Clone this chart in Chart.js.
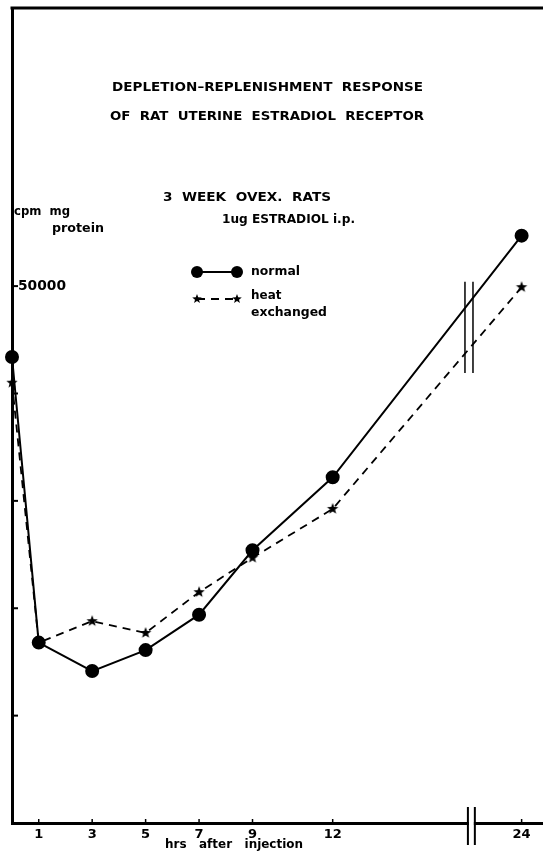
<!DOCTYPE html>
<html>
<head>
<meta charset="utf-8">
<script src="https://cdn.jsdelivr.net/npm/chart.js@4.4.0/dist/chart.umd.min.js"></script>
<style>
  html, body { margin: 0; padding: 0; background: #fff; }
  #wrap { width: 543px; height: 852px; position: relative; }
</style>
</head>
<body>
<div id="wrap"><canvas id="receptorChart"></canvas></div>
<script>
// hours after injection (x) and receptor level, cpm / mg protein (y)
const hours = [0, 1, 3, 5, 7, 9, 12, 24];
const normalValues = [43400, 16800, 14150, 16100, 19400, 25400, 32200, 54700];
const heatExchangedValues = [41000, 16800, 18800, 17700, 21500, 24700, 29250, 49900];
const xTickHours = [1, 3, 5, 7, 9, 12, 24];
const yTickValues = [10000, 20000, 30000, 40000, 50000];
const yLabelledTicks = [50000];
const seriesNames = ['normal', 'heat', 'exchanged'];

// the x axis is cut between 12 and 24 h
const breakGap = 4.93;
function axisPos(h) { return h > 12 ? h - breakGap : h; }

const FONT = '"DejaVu Sans", "Liberation Sans", Arial, sans-serif';

function makeStar(r) {
    const c = document.createElement('canvas');
    const s = Math.ceil(r * 2 + 2);
    c.width = s; c.height = s;
    const g = c.getContext('2d');
    g.fillStyle = '#000';
    g.beginPath();
    for (let i = 0; i < 10; i++) {
        const rad = i % 2 === 0 ? r : r * 0.42;
        const a = -Math.PI / 2 + i * Math.PI / 5;
        g.lineTo(s / 2 + rad * Math.cos(a), s / 2 + rad * Math.sin(a));
    }
    g.closePath();
    g.fill();
    return c;
}
const starBig = makeStar(6);
const starSmall = makeStar(5);

// text stretched to the width it has in the figure (natural width if no right edge)
function fitText(ctx, str, left, right, midY, size, sx) {
    ctx.font = 'bold ' + size + 'px ' + FONT;
    const w = ctx.measureText(str).width;
    const k = right ? (right - left) / w : (sx || 1);
    ctx.save();
    ctx.translate(left, midY);
    ctx.scale(k, 1);
    ctx.textBaseline = 'middle';
    ctx.textAlign = 'left';
    ctx.fillStyle = '#000';
    ctx.fillText(str, 0, 0);
    ctx.restore();
}

const extras = {
    id: 'extras',
    afterDraw(chart) {
        const ctx = chart.ctx;
        const xs = chart.scales.x, ys = chart.scales.y;
        const area = chart.chartArea;
        ctx.save();
        ctx.strokeStyle = '#000';
        ctx.fillStyle = '#000';

        // frame on top
        ctx.lineWidth = 3;
        ctx.beginPath();
        ctx.moveTo(area.left - 1.5, area.top);
        ctx.lineTo(chart.width, area.top);
        ctx.stroke();

        // inward y ticks
        ctx.lineWidth = 2;
        yTickValues.forEach(v => {
            const y = ys.getPixelForValue(v);
            ctx.beginPath();
            ctx.moveTo(area.left, y);
            ctx.lineTo(area.left + 6, y);
            ctx.stroke();
        });
        yLabelledTicks.forEach(v => {
            fitText(ctx, String(v), 18, 66, ys.getPixelForValue(v), 14);
        });
        // small x ticks
        ctx.lineWidth = 1.5;
        xTickHours.forEach(h => {
            const x = xs.getPixelForValue(axisPos(h));
            ctx.beginPath();
            ctx.moveTo(x, area.bottom);
            ctx.lineTo(x, area.bottom - 4);
            ctx.stroke();
        });

        // axis break
        const b1 = xs.getPixelForValue(17.06), b2 = xs.getPixelForValue(17.32);
        ctx.fillStyle = '#fff';
        ctx.fillRect(b1 + 1, area.bottom - 3, b2 - b1 - 2, 6);
        ctx.fillStyle = '#000';
        ctx.lineWidth = 2;
        [b1, b2].forEach(x => {
            ctx.beginPath();
            ctx.moveTo(x, area.bottom - 16);
            ctx.lineTo(x, area.bottom + 22);
            ctx.stroke();
        });
        // break marks across the curves
        ctx.lineWidth = 1.5;
        [16.95, 17.25].forEach(p => {
            const x = xs.getPixelForValue(p);
            ctx.beginPath();
            ctx.moveTo(x, ys.getPixelForValue(50400));
            ctx.lineTo(x, ys.getPixelForValue(41900));
            ctx.stroke();
        });

        // legend
        const n = chart.data.datasets[0], he = chart.data.datasets[1];
        ctx.lineWidth = n.borderWidth;
        ctx.beginPath();
        ctx.moveTo(197, 272); ctx.lineTo(237, 272);
        ctx.stroke();
        [197, 237].forEach(x => {
            ctx.beginPath();
            ctx.arc(x, 272, 6, 0, Math.PI * 2);
            ctx.fill();
        });
        ctx.lineWidth = he.borderWidth;
        ctx.setLineDash(he.borderDash);
        ctx.beginPath();
        ctx.moveTo(197, 299); ctx.lineTo(237, 299);
        ctx.stroke();
        ctx.setLineDash([]);
        [197, 237].forEach(x => {
            ctx.drawImage(starSmall, x - starSmall.width / 2, 299 - starSmall.height / 2);
        });
        fitText(ctx, seriesNames[0], 251, 300, 272, 13);
        fitText(ctx, seriesNames[1], 251, null, 296, 13, 0.92);
        fitText(ctx, seriesNames[2], 251, 327, 313, 13);

        // titles and labels
        fitText(ctx, 'DEPLETION\u2013REPLENISHMENT  RESPONSE', 112, 423, 88, 13);
        fitText(ctx, 'OF  RAT  UTERINE  ESTRADIOL  RECEPTOR', 110, 424, 117, 13);
        fitText(ctx, '3  WEEK  OVEX.  RATS', 163, 331, 198, 13);
        fitText(ctx, '1ug ESTRADIOL i.p.', 222, 355, 220, 12);
        fitText(ctx, 'cpm  mg', 14, 70, 212, 13);
        fitText(ctx, 'protein', 52, 104, 229, 12);
        fitText(ctx, 'hrs   after   injection', 165, 303, 845, 12);
        ctx.restore();
    }
};

const ctx = document.getElementById('receptorChart').getContext('2d');
new Chart(ctx, {
    type: 'line',
    data: {
        datasets: [{
            label: 'normal',
            data: hours.map((h, i) => ({ x: axisPos(h), y: normalValues[i] })),
            borderColor: '#000',
            backgroundColor: '#000',
            borderWidth: 2,
            pointRadius: 6,
            pointStyle: 'circle',
            tension: 0,
            clip: false
        }, {
            label: 'heat exchanged',
            data: hours.map((h, i) => ({ x: axisPos(h), y: heatExchangedValues[i] })),
            borderColor: '#000',
            backgroundColor: '#000',
            borderWidth: 1.8,
            borderDash: [8, 6],
            pointStyle: starBig,
            tension: 0,
            clip: false
        }]
    },
    options: {
        responsive: true,
        maintainAspectRatio: false,
        animation: false,
        events: [],
        layout: { autoPadding: false, padding: { top: 8, left: 0, right: 0, bottom: 0 } },
        scales: {
            x: {
                type: 'linear',
                min: 0,
                max: 19.87,
                afterFit(scale) {
                    scale.height = 29;
                    scale.paddingLeft = 0;
                    scale.paddingRight = 0;
                },
                afterBuildTicks(scale) {
                    scale.ticks = xTickHours.map(h => ({ value: axisPos(h), label: String(h) }));
                },
                ticks: {
                    autoSkip: false,
                    maxRotation: 0,
                    padding: 4,
                    color: '#000',
                    font: { family: FONT, size: 13, weight: 'bold' },
                    callback(v) {
                        const h = xTickHours.find(t => Math.abs(axisPos(t) - v) < 0.01);
                        return h === undefined ? '' : String(h);
                    }
                },
                grid: { display: false, drawTicks: false },
                border: { display: true, color: '#000', width: 3 }
            },
            y: {
                min: 0,
                max: 75900,
                afterFit(scale) {
                    scale.width = 12;
                    scale.paddingTop = 0;
                    scale.paddingBottom = 0;
                },
                ticks: {
                    display: false,
                    stepSize: 10000
                },
                grid: { display: false, drawTicks: false },
                border: { display: true, color: '#000', width: 3 }
            }
        },
        plugins: {
            legend: { display: false },
            tooltip: { enabled: false }
        }
    },
    plugins: [extras]
});
</script>
</body>
</html>
